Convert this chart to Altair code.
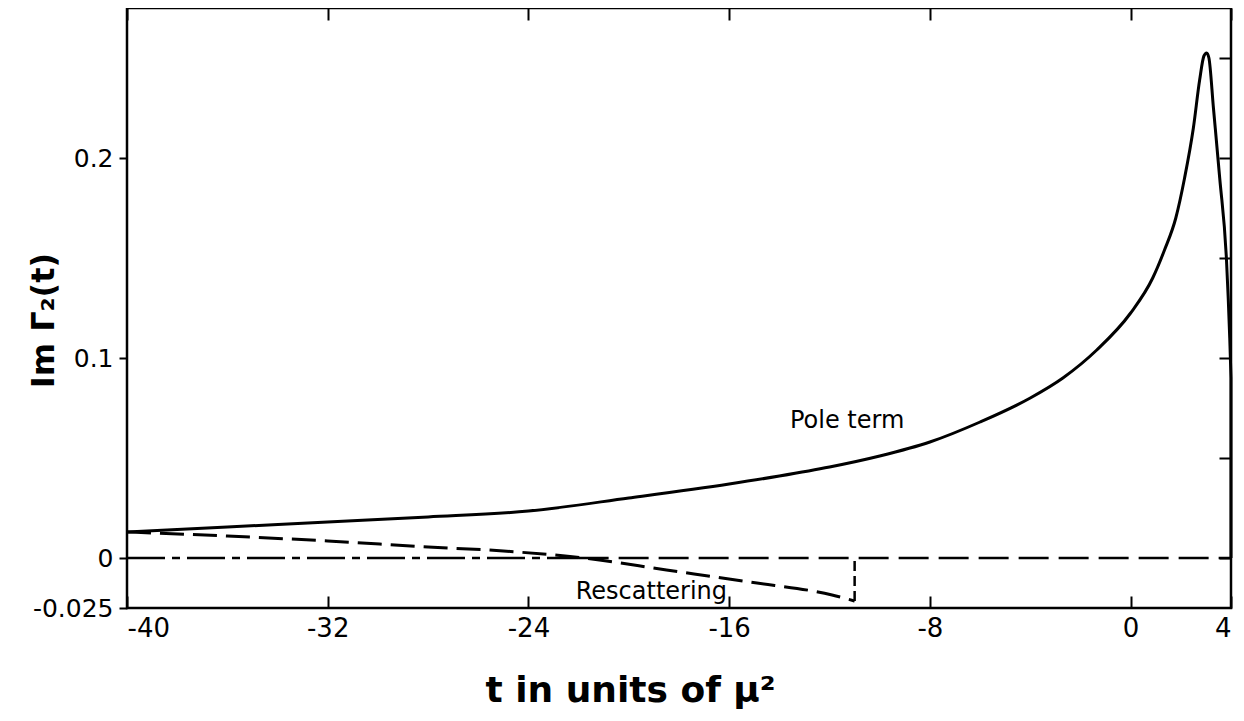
import altair as alt
import pandas as pd

# Pole term (solid curve)
pole_t = [-40, -36, -32, -28, -24, -20, -16, -14, -12, -10, -8, -6, -4, -2.7, -1.35, 0,
          0.88, 1.35, 1.8, 2.15, 2.5, 2.75, 2.92, 3.03, 3.12, 3.3, 3.55, 3.82, 3.95, 4.0]
pole_v = [0.013, 0.0155, 0.018, 0.0205, 0.0235, 0.030, 0.037, 0.041, 0.0455, 0.051, 0.058, 0.068,
          0.080, 0.090, 0.104, 0.1225, 0.140, 0.154, 0.170, 0.190, 0.215, 0.239, 0.251, 0.2525,
          0.250, 0.225, 0.190, 0.149, 0.110, 0.090]
# vertical drop at the end of the pole term
drop_t = [4.0, 4.0]
drop_v = [0.090, 0.0]

# Rescattering (dashed curve)
resc_t = [-40, -36, -32, -28, -25, -21.8, -18.5, -15.2, -11.9, -11.0]
resc_v = [0.013, 0.011, 0.0085, 0.0055, 0.0035, 0.0, -0.006, -0.012, -0.0185, -0.0215]
cut_t = [-11.0, -11.0]
cut_v = [-0.0215, 0.0]

# zero reference line segments
zero_left_t = [-40, -22]
zero_right_t = [-22, 4]

x_ticks = [-40, -32, -24, -16, -8, 0, 4]
y_ticks = [-0.025, 0, 0.1, 0.2]
y_right_ticks = [0, 0.05, 0.1, 0.15, 0.2, 0.25]

labels_text = ["Pole term", "Rescattering"]
labels_t = [-11.3, -19.1]
labels_v = [0.0685, -0.0172]

XDOM = [-40, 4]
YDOM = [-0.025, 0.275]
FONT = "DejaVu Sans"

pole = pd.DataFrame({"t": pole_t, "v": pole_v})
drop = pd.DataFrame({"t": drop_t, "v": drop_v, "o": [0, 1]})
resc = pd.DataFrame({"t": resc_t, "v": resc_v})
cut = pd.DataFrame({"t": cut_t, "v": cut_v, "o": [0, 1]})
zl = pd.DataFrame({"t": zero_left_t, "v": [0, 0]})
zr = pd.DataFrame({"t": zero_right_t, "v": [0, 0]})
lab = pd.DataFrame({"text": labels_text, "t": labels_t, "v": labels_v})

xs = alt.Scale(domain=XDOM, nice=False, zero=False)
ys = alt.Scale(domain=YDOM, nice=False, zero=False)

solid = alt.Chart(pole).mark_line(color="black", strokeWidth=3, interpolate="monotone").encode(
    x=alt.X("t:Q", scale=xs, axis=alt.Axis(
        orient="bottom", values=x_ticks, domain=False, grid=False,
        labelExpr="'' + datum.value",
        offset=-12, tickSize=12, tickWidth=2, tickColor="black",
        labelFont=FONT, labelFontSize=26, labelColor="black", labelPadding=7,
        title="t in units of μ²", titleFont=FONT, titleFontSize=36, titleFontWeight="bold",
        titleColor="black", titleX=503, titleY=105, titleAlign="center", titleBaseline="alphabetic")),
    y=alt.Y("v:Q", scale=ys, axis=alt.Axis(
        orient="left", values=y_ticks, domain=False, grid=False,
        tickSize=8, tickWidth=2, tickColor="black",
        labelExpr="'' + datum.value",
        labelFont=FONT, labelFontSize=25, labelColor="black", labelPadding=6,
        title="Im Γ₂(t)", titleFont=FONT, titleFontSize=32, titleFontWeight="bold",
        titleColor="black", titleX=-84, titleY=312, titleAlign="center", titleBaseline="middle",
        titleAngle=270)),
)

drop_line = alt.Chart(drop).mark_line(color="black", strokeWidth=3).encode(
    x=alt.X("t:Q", scale=xs, axis=None), y=alt.Y("v:Q", scale=ys, axis=None), order="o:Q")

dashed = alt.Chart(resc).mark_line(color="black", strokeWidth=3, strokeDash=[24, 9],
                                   interpolate="monotone").encode(
    x=alt.X("t:Q", scale=xs, axis=alt.Axis(
        orient="top", values=x_ticks, labels=False, domain=False, grid=False, title=None,
        offset=-12, tickSize=12, tickWidth=2, tickColor="black")),
    y=alt.Y("v:Q", scale=ys, axis=alt.Axis(
        orient="right", values=y_right_ticks, labels=False, domain=False, grid=False, title=None,
        offset=-12, tickSize=12, tickWidth=2, tickColor="black")),
)

cut_line = alt.Chart(cut).mark_line(color="black", strokeWidth=2.5, strokeDash=[10, 5]).encode(
    x=alt.X("t:Q", scale=xs, axis=None), y=alt.Y("v:Q", scale=ys, axis=None), order="o:Q")

zero_left = alt.Chart(zl).mark_line(color="black", strokeWidth=2.5, strokeDash=[38, 7, 8, 7]).encode(
    x=alt.X("t:Q", scale=xs, axis=None), y=alt.Y("v:Q", scale=ys, axis=None))
zero_right = alt.Chart(zr).mark_line(color="black", strokeWidth=2.5, strokeDash=[30, 10]).encode(
    x=alt.X("t:Q", scale=xs, axis=None), y=alt.Y("v:Q", scale=ys, axis=None))

texts = alt.Chart(lab).mark_text(font=FONT, fontSize=24, color="black", align="center",
                                 baseline="middle").encode(
    x=alt.X("t:Q", scale=xs, axis=None), y=alt.Y("v:Q", scale=ys, axis=None), text="text:N")

chart = alt.layer(zero_left, zero_right, dashed, cut_line, solid, drop_line, texts).resolve_scale(
    x="shared", y="shared").resolve_axis(x="independent", y="independent").properties(
    width=1104, height=600,
    autosize=alt.AutoSizeParams(type="none"),
    padding={"left": 119, "top": 0, "right": 5, "bottom": 105},
    background="white",
).configure_view(stroke="black", strokeWidth=2.5)

chart.save("out.html", embed_options={"renderer": "svg", "actions": False})
